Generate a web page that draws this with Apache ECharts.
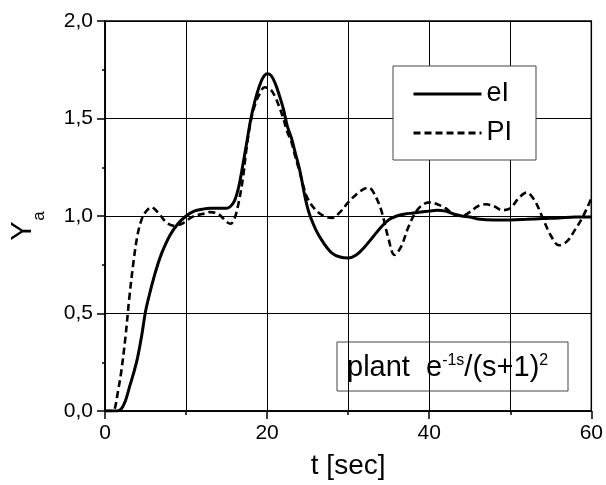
<!DOCTYPE html>
<html><head><meta charset="utf-8">
<script src="https://cdn.jsdelivr.net/npm/echarts@6/dist/echarts.min.js"></script>
<style>html,body{margin:0;padding:0;background:#fff}#c{width:606px;height:485px}</style>
</head><body><div id="c"></div>
<script>
// time samples and values
const tEI = [0,1,1.5,2,2.5,3,3.5,4,4.5,5,5.5,6,6.5,7,8,9,10,11,12,13,14,15,15.5,16,16.5,17,17.5,18,18.5,19,19.5,20,20.5,21,21.5,22,22.5,23,23.5,24,25,26,27,28,29,30,31,32,33,34,35,36,37,38,39,40,41,42,43,44,45,46,48,50,52,54,56,58,60];
const yEI = [0,0,0,0.01,0.05,0.12,0.19,0.27,0.38,0.51,0.60,0.68,0.75,0.81,0.90,0.96,1.00,1.025,1.035,1.04,1.04,1.04,1.05,1.08,1.15,1.26,1.38,1.50,1.59,1.66,1.71,1.73,1.72,1.68,1.62,1.55,1.46,1.40,1.32,1.24,1.04,0.93,0.86,0.81,0.79,0.785,0.80,0.84,0.89,0.94,0.98,1.00,1.01,1.015,1.02,1.025,1.03,1.025,1.01,1.00,0.995,0.985,0.98,0.98,0.983,0.987,0.99,0.995,0.995];
const tPI = [0,1,1.2,1.6,2,2.5,3,3.5,4,4.5,5,5.7,6.5,7.5,8.5,9.5,10,11,12,13,14,15,15.5,16,16.5,17,17.5,18,18.5,19,19.7,20.5,21,21.5,22,22.5,23,23.5,24,24.5,25,26,27,28,29,30,31,32,32.5,33,34,35,35.7,36.5,37.5,38.5,39.5,40.2,41,42,43,44,45,46,47,48,49,50,51,52,53,54,55,56,57,58,59,60];
const yPI = [0,0,0.01,0.1,0.2,0.37,0.58,0.76,0.9,0.98,1.02,1.045,1.02,0.97,0.95,0.96,0.975,1.0,1.01,1.02,1.01,0.97,0.96,0.99,1.07,1.19,1.36,1.49,1.57,1.62,1.66,1.645,1.61,1.56,1.50,1.43,1.38,1.30,1.23,1.15,1.09,1.03,1.00,0.99,1.02,1.07,1.11,1.14,1.145,1.13,1.04,0.88,0.80,0.84,0.95,1.03,1.065,1.07,1.06,1.04,1.01,1.00,1.02,1.05,1.06,1.05,1.03,1.04,1.09,1.12,1.08,0.99,0.90,0.85,0.87,0.93,1.00,1.09];
const seriesNames = ['eI', 'PI'];
const xMin = 0, xMax = 60, xStep = 20;
const yMin = 0, yMax = 2, yStep = 0.5;

const FONT = "'Liberation Sans', Arial, sans-serif";
const pairs = (t, y) => t.map((v, i) => [v, y[i]]);
const chart = echarts.init(document.getElementById('c'), null, {renderer: 'canvas'});
const axisCommon = {
  axisLine: {show: true, lineStyle: {color: '#000', width: 1.5}},
  axisTick: {show: true, inside: false, length: 8, lineStyle: {color: '#000', width: 1.5}},
  splitLine: {show: true, lineStyle: {color: '#000', width: 1}},
};
chart.setOption({
  animation: false,
  backgroundColor: '#fff',
  textStyle: {fontFamily: FONT},
  grid: {left: 105, right: 13, top: 21, bottom: 67, show: true, borderColor: '#000', borderWidth: 1.5, backgroundColor: 'transparent'},
  xAxis: Object.assign({}, axisCommon, {
    type: 'value', min: xMin, max: xMax, interval: xStep,
    minorTick: {show: true, splitNumber: 2, length: 4, lineStyle: {color: '#000', width: 1.5}},
    minorSplitLine: {show: true, lineStyle: {color: '#000', width: 1}},
    axisLabel: {color: '#000', fontSize: 21, margin: 12, fontFamily: FONT},
    name: 't [sec]', nameLocation: 'middle', nameGap: 41,
    nameTextStyle: {color: '#000', fontSize: 28, fontFamily: FONT}
  }),
  yAxis: Object.assign({}, axisCommon, {
    type: 'value', min: yMin, max: yMax, interval: yStep,
    minorTick: {show: true, splitNumber: 2, length: 3, lineStyle: {color: '#000', width: 1.5}},
    minorSplitLine: {show: false},
    axisLabel: {color: '#000', fontSize: 21, margin: 12, fontFamily: FONT,
      formatter: v => v.toFixed(1).replace('.', ',')}
  }),
  legend: {
    orient: 'vertical', left: 393, top: 66,
    data: seriesNames,
    backgroundColor: '#fff', borderColor: '#444', borderWidth: 1,
    padding: [14, 24, 13, 19], itemGap: 11, itemWidth: 68, itemHeight: 14,
    itemStyle: {opacity: 0},
    lineStyle: {width: 3},
    textStyle: {color: '#000', fontSize: 27, lineHeight: 28, fontFamily: FONT},
    selectedMode: false
  },
  series: [
    {name: seriesNames[0], type: 'line', data: pairs(tEI, yEI), showSymbol: false, symbol: 'none', smooth: 0.35,
     lineStyle: {color: '#000', width: 3, type: 'solid'}, itemStyle: {color: '#000'}, z: 3},
    {name: seriesNames[1], type: 'line', data: pairs(tPI, yPI), showSymbol: false, symbol: 'none', smooth: 0.35,
     lineStyle: {color: '#000', width: 2.6, type: [7, 4]}, itemStyle: {color: '#000'}, z: 3}
  ],
  graphic: [
    {type: 'group', z: 10, children: [
      {type: 'rect', shape: {x: 337, y: 342, width: 231, height: 49}, style: {fill: '#fff', stroke: '#444', lineWidth: 1}},
      {type: 'text', x: 347, y: 368, style: {
        text: '{m|plant  e}{s|-1s}{m|/(s+1)}{s|2}', verticalAlign: 'middle', align: 'left',
        rich: {
          m: {fontSize: 29, fontFamily: FONT, fill: '#000', lineHeight: 30},
          s: {fontSize: 16, fontFamily: FONT, fill: '#000', verticalAlign: 'top', lineHeight: 16}
        }}}
    ]},
    {type: 'text', x: 23, y: 231, rotation: Math.PI / 2, z: 10,
     style: {text: 'Y', fontSize: 29, fontFamily: FONT, fill: '#000', align: 'center', verticalAlign: 'middle'}},
    {type: 'text', x: 39, y: 216, rotation: Math.PI / 2, z: 10,
     style: {text: 'a', fontSize: 17, fontFamily: FONT, fill: '#000', align: 'center', verticalAlign: 'middle'}}
  ]
});
</script>
</body></html>
